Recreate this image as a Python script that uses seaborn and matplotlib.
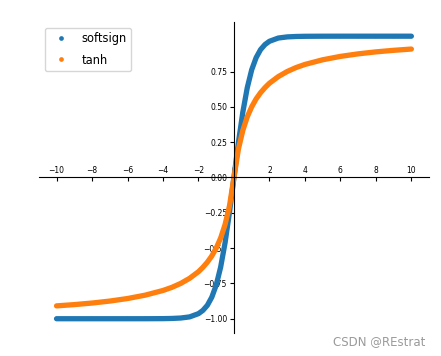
import pandas as pd
import numpy as np
import matplotlib.pyplot as plt
import seaborn as sns

# values (legend labels kept as they appear in the picture)
x_vals = [-10, -9, -8, -7, -6, -5, -4, -3.5, -3, -2.5, -2, -1.75, -1.5, -1.25, -1,
          -0.75, -0.5, -0.25, 0, 0.25, 0.5, 0.75, 1, 1.25, 1.5, 1.75, 2, 2.5, 3,
          3.5, 4, 5, 6, 7, 8, 9, 10]

blue_vals = [-1.0, -1.0, -1.0, -1.0, -1.0, -0.9999, -0.9993, -0.998, -0.995, -0.987,
             -0.964, -0.941, -0.905, -0.848, -0.762, -0.635, -0.462, -0.245, 0.0,
             0.245, 0.462, 0.635, 0.762, 0.848, 0.905, 0.941, 0.964, 0.987, 0.995,
             0.998, 0.9993, 0.9999, 1.0, 1.0, 1.0, 1.0, 1.0]

orange_vals = [-0.909, -0.9, -0.889, -0.875, -0.857, -0.833, -0.8, -0.778, -0.75,
               -0.714, -0.667, -0.636, -0.6, -0.556, -0.5, -0.429, -0.333, -0.2, 0.0,
               0.2, 0.333, 0.429, 0.5, 0.556, 0.6, 0.636, 0.667, 0.714, 0.75, 0.778,
               0.8, 0.833, 0.857, 0.875, 0.889, 0.9, 0.909]

labels = ["softsign", "tanh"]
colors = ["#1f77b4", "#ff7f0e"]
x_ticks = [-10, -8, -6, -4, -2, 0, 2, 4, 6, 8, 10]
y_ticks = [-1.0, -0.75, -0.5, -0.25, 0.0, 0.25, 0.5, 0.75]

df = pd.DataFrame({
    "x": x_vals + x_vals,
    "y": blue_vals + orange_vals,
    "label": [labels[0]] * len(x_vals) + [labels[1]] * len(x_vals),
})

fig = plt.figure(figsize=(4.41, 3.56), dpi=100)
ax = fig.add_axes([0.088, 0.065, 0.885, 0.873])

# thick connecting line so the dense scatter reads as a continuous band
sns.lineplot(data=df, x="x", y="y", hue="label", hue_order=labels, palette=colors,
             linewidth=3.8, solid_capstyle="round", solid_joinstyle="round",
             legend=False, sort=True, ax=ax)
sns.scatterplot(data=df, x="x", y="y", hue="label", hue_order=labels, palette=colors,
                s=8, linewidth=0, ax=ax)

ax.set_xlim(-11, 11)
ax.set_ylim(-1.1, 1.1)
ax.set_xticks(x_ticks)
ax.set_yticks(y_ticks)
ax.set_xlabel("")
ax.set_ylabel("")

# axes through the origin
ax.spines["left"].set_position(("data", 0))
ax.spines["top"].set_position(("data", 0))
ax.spines["right"].set_visible(False)
ax.spines["bottom"].set_visible(False)
ax.xaxis.set_ticks_position("top")
ax.tick_params(axis="x", direction="in", labelsize=5.5, pad=2, length=3)
ax.tick_params(axis="y", labelsize=5.5, pad=2, length=3)

handles, lbls = ax.get_legend_handles_labels()
ax.legend(handles, lbls, loc="upper left", fontsize=8.3, markerscale=1.2,
          labelspacing=0.7, bbox_to_anchor=(0.0, 1.0), borderaxespad=0.5)

fig.text(0.965, 0.042, "CSDN @REstrat", ha="right", va="center",
         fontsize=8.5, color="#9a9a9a")

fig.savefig("out.png", dpi=100)
